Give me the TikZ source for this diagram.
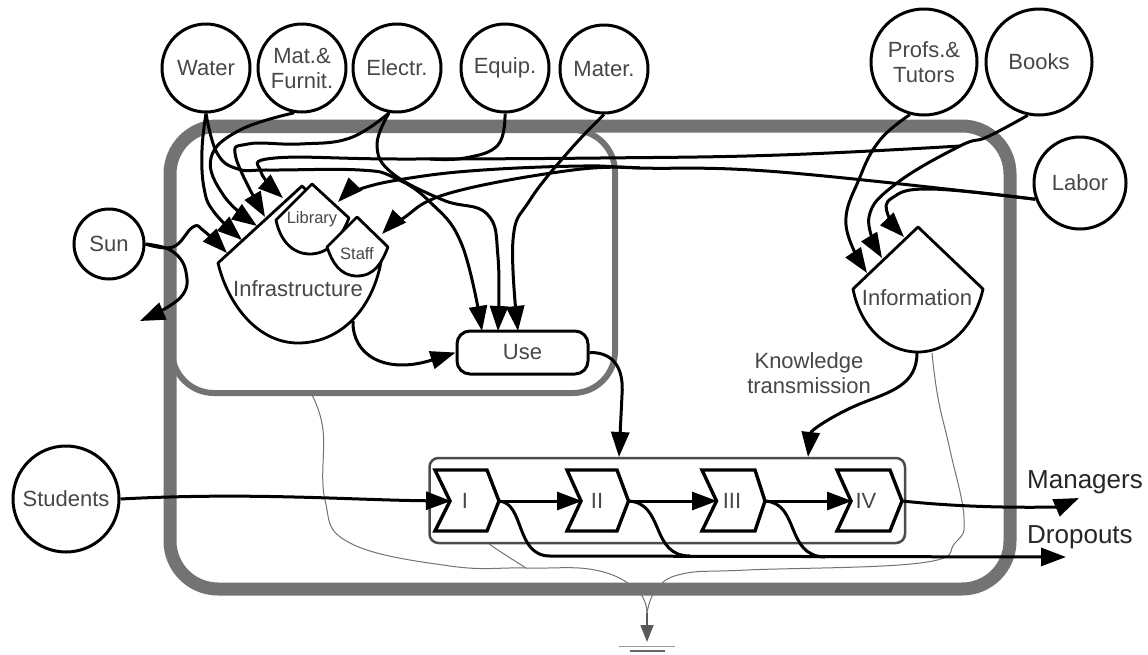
\documentclass[tikz,border=0pt]{standalone}
\usepackage{fontspec}
\setmainfont{Liberation Sans}
\usetikzlibrary{arrows.meta}
\tikzset{
  lbl/.style={font=\fontsize{22}{25}\selectfont,text=black!72,align=center,inner sep=0pt},
  smalllbl/.style={font=\fontsize{16.5}{19}\selectfont,text=black!72,inner sep=0pt},
  bigl/.style={font=\fontsize{26}{30}\selectfont,text=black!85,inner sep=0pt},
  src/.style={circle,draw=black,fill=white,line width=3pt,inner sep=0pt,lbl},
  tank/.style={draw=black,fill=white,line width=2.8pt,line join=round},
  flow/.style={draw=black,line width=3pt,-{Triangle[length=25pt,width=18pt]}},
  plain/.style={draw=black,line width=3pt},
  wall/.style={draw=black!55,rounded corners=48pt},
  sink/.style={draw=black!55,line width=1pt},
  chev/.style={draw=black,fill=white,line width=3.4pt,line join=miter},
  sm/.style={smooth,tension=0.7}
}
\begin{document}
\begin{tikzpicture}[x=1pt,y=-1pt]
\useasboundingbox (0,0) rectangle (1148,654);
\fill[white] (0,0) rectangle (1148,654);
% walls
\draw[wall,line width=13pt] (170,126) rectangle (1010,589);
\draw[wall,line width=6pt,rounded corners=42pt] (172,130) rectangle (615,393);
% process frame
\draw[draw=black!70,fill=white,line width=2.5pt,rounded corners=9pt] (429.5,458) rectangle (905,543);
\node (frame) at (667,500) [minimum width=475pt,minimum height=85pt,inner sep=0pt] {};
% tanks
\path[tank] (218,263) -- (302,186) -- (381,262) .. controls (372,310) and (340,343) .. (298,343) .. controls (258,343) and (228,305) .. (218,263) -- cycle;
\path[tank] (276,220) -- (312,184) -- (349,218) .. controls (340,240) and (328,254) .. (310,254) .. controls (292,254) and (280,240) .. (276,220) -- cycle;
\path[tank] (327,247) -- (357,217) -- (388,247) .. controls (382,262) and (375,276) .. (357,276) .. controls (340,276) and (332,262) .. (327,247) -- cycle;
\path[tank] (853,289) -- (918,227) -- (983,289) .. controls (975,325) and (950,352) .. (918,352) .. controls (885,352) and (860,325) .. (853,289) -- cycle;
\node[lbl] (infra) at (298,289) {Infrastructure};
\node[smalllbl] (library) at (312,219) {Library};
\node[smalllbl] (staff) at (357,254) {Staff};
\node[lbl] (info) at (917,298) {Information};
% sources
\node[src,minimum size=88pt] (water) at (206,68) {Water};
\node[src,minimum size=88pt] (matf) at (302,68) {Mat.\&\\Furnit.};
\node[src,minimum size=88pt] (electr) at (397,68) {Electr.};
\node[src,minimum size=88pt] (equip) at (505,68) {Equip.};
\node[src,minimum size=88pt] (mater) at (604,69) {Mater.};
\node[src,minimum size=106pt] (profs) at (924,62) {Profs.\&\\Tutors};
\node[src,minimum size=106pt] (books) at (1039,62) {Books};
\node[src,minimum size=92pt] (labor) at (1080,183) {Labor};
\node[src,minimum size=70pt] (sun) at (109,244) {Sun};
\node[src,minimum size=106pt] (students) at (66,499) {Students};
% use
\node[draw=black,fill=white,line width=3pt,rounded corners=13pt,minimum width=131pt,minimum height=43pt,inner sep=0pt,lbl] (use) at (522.5,352.5) {Use};
% chevrons
\path[chev] (435,470) -- (487,470) -- (499,501) -- (487,531) -- (435,531) -- (450,501) -- cycle;
\path[chev] (567,470) -- (617,470) -- (628.5,501) -- (617,531) -- (567,531) -- (581,501) -- cycle;
\path[chev] (702,470) -- (755,470) -- (765,501) -- (755,531) -- (702,531) -- (716.5,501) -- cycle;
\path[chev] (837,470) -- (890,470) -- (902,501) -- (890,531) -- (837,531) -- (851,501) -- cycle;
\node[lbl] (s1) at (465,501) {I};
\node[lbl] (s2) at (597,501) {II};
\node[lbl] (s3) at (732,501) {III};
\node[lbl] (s4) at (866,501) {IV};
\coordinate (s1in) at (451,501); \coordinate (s1out) at (499,501);
\coordinate (s2in) at (582,501); \coordinate (s2out) at (628.5,501);
\coordinate (s3in) at (717,501); \coordinate (s3out) at (765,501);
\coordinate (s4in) at (852,501); \coordinate (s4out) at (902,501);
% text
\node[lbl] (know) at (809,373) {Knowledge\\transmission};
\node[bigl,anchor=west] (mgr) at (1027,482) {Managers};
\node[bigl,anchor=west] (drop) at (1027,537) {Dropouts};
% free ends
\coordinate (tMgr) at (1079,498);
\coordinate (tDrop) at (1066,557);
\coordinate (tSun) at (140,321);
\coordinate (tI0) at (227,253);
\coordinate (tI1) at (242,240);
\coordinate (tI2) at (257,226);
\coordinate (tI3) at (265,217);
\coordinate (tI4) at (283,198);
\coordinate (tLib) at (338,202);
\coordinate (tStaff) at (382,234);
\coordinate (tU1) at (482,331);
\coordinate (tU2) at (498,331);
\coordinate (tU3) at (518,331);
\coordinate (tB1) at (619,457);
\coordinate (tB2) at (808,457);
\coordinate (tInf1) at (867,273);
\coordinate (tInf2) at (882,258);
\coordinate (tInf3) at (904,237);
\coordinate (infraRight) at (353,321);
\coordinate (infoBot) at (917,353);
\coordinate (infoSink) at (932,353);
\coordinate (wallSink) at (312,395);
\coordinate (frameSink) at (489,544);
\coordinate (sinkJoin) at (647,613);
\coordinate (gnd) at (647,642);
\coordinate (joinL) at (526,568);
\coordinate (branchB) at (960,146);
\coordinate (branchL) at (780,172);
% thin energy-sink lines
\draw[sink] plot[sm] coordinates {(wallSink) (323,430) (325,500) (350,543) (450,566) (joinL) (595,570) (637,590) (sinkJoin)};
\draw[sink] plot[sm] coordinates {(frameSink) (504,554) (joinL)};
\draw[sink] plot[sm] coordinates {(infoSink) (938,398) (950,450) (964,517) (955,543) (920,563) (747,570) (682,574) (656,590) (sinkJoin)};
\draw[draw=black!65,line width=1.4pt,-{Triangle[length=17pt,width=13pt]}] (sinkJoin) -- (gnd);
\node[inner sep=0pt,minimum width=56pt,minimum height=1.5pt,fill=black!40] (g1) at (647,646.5) {};
\node[inner sep=0pt,minimum width=35pt,minimum height=2pt,fill=black!60] (g2) at (647,651) {};
% Water
\draw[flow] plot[sm] coordinates {(water.south) (202,150) (204,188) (214,212) (tI1)};
\draw[flow] plot[sm] coordinates {(water.south) (217,153) (238,169) (270,170) (360,170) (395,178) (430,202) (462,245) (tU1)};
% Mat
\draw[flow] plot[sm] coordinates {(matf.260) (240,130) (211,158) (224,196) (tI2)};
% Electr
\draw[flow] plot[sm] coordinates {(electr.260) (350,138) (300,144) (248,144) (236,158) (tI3)};
\draw[flow] plot[sm] coordinates {(electr.260) (377,145) (392,173) (443,200) (487,214) (498,257) (tU2)};
% Equip joins Books line
\draw[plain] plot[sm] coordinates {(equip.south) (498,145) (465,158) (430,159)};
% Books
\draw[flow] plot[sm] coordinates {(books.258) (987,137) (branchB) (897,183) (869,217) (tInf2)};
\draw[flow] plot[sm] coordinates {(branchB) (780,155) (600,158) (400,159) (275,158) (261,172) (tI4)};
% Mater
\draw[flow] plot[sm] coordinates {(mater.south) (570,150) (530,200) (513,240) (tU3)};
% Profs
\draw[flow] plot[sm] coordinates {(profs.255) (880,140) (860,177) (846,225) (tInf1)};
% Labor
\draw[flow] plot[sm] coordinates {(labor.200) (branchL) (640,168) (583,166) (483,170) (410,178) (360,189) (tLib)};
\draw[flow] plot[sm] coordinates {(640,168) (573,170) (450,193) (402,219) (tStaff)};
\draw[flow] plot[sm] coordinates {(labor.200) (930,189) (892,198) (888,215) (tInf3)};
% Sun
\draw[flow] plot[sm] coordinates {(sun.east) (173,247) (193,227) (204,231) (tI0)};
\draw[flow] plot[sm] coordinates {(sun.east) (172,251) (186,272) (180,298) (tSun)};
% Infrastructure to use, use to frame, knowledge
\draw[flow] (infraRight) .. controls (352,355) and (385,375) .. (use.west);
\draw[flow] (use.east) .. controls (615,352) and (624,370) .. (622,395) -- (tB1);
\draw[flow] (infoBot) .. controls (917,385) and (890,392) .. (862,403) .. controls (835,414) and (811,430) .. (tB2);
% stages
\draw[flow] (students.east) .. controls (250,492) and (350,500) .. (s1in);
\draw[flow] (s1out) -- (s2in);
\draw[flow] (s2out) -- (s3in);
\draw[flow] (s3out) -- (s4in);
\draw[flow] (s4out) .. controls (950,506) and (1000,508) .. (1058,507) -- (tMgr);
\draw[flow] (s1out) .. controls (525,503) and (515,556) .. (550,556) -- (tDrop);
\draw[plain] (s2out) .. controls (665,503) and (650,556) .. (690,556);
\draw[plain] (s3out) .. controls (800,503) and (785,556) .. (825,557);
\end{tikzpicture}
\end{document}
